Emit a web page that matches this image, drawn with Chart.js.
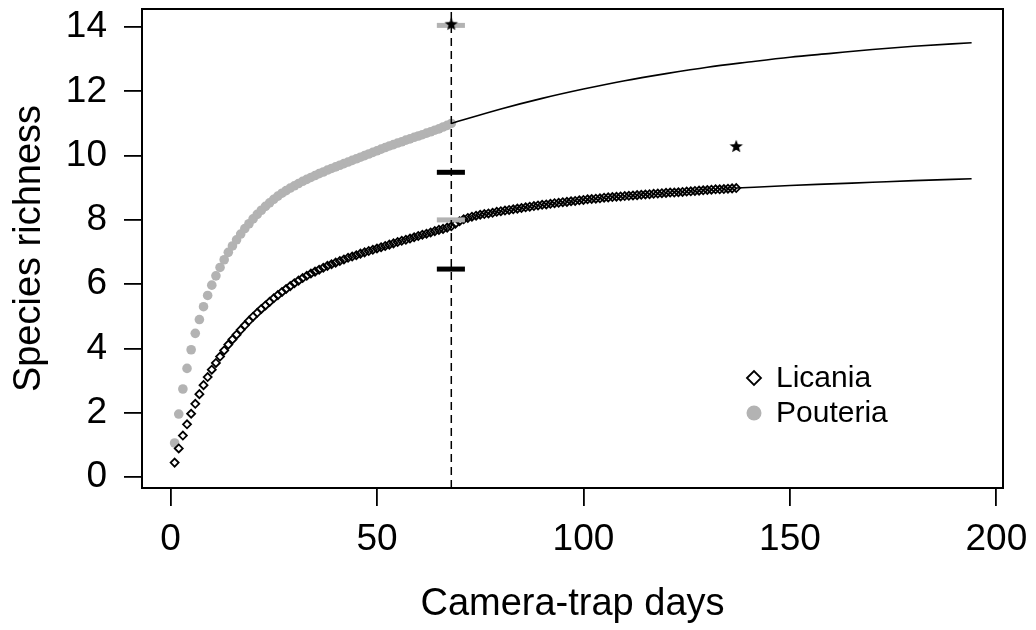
<!DOCTYPE html>
<html>
<head>
<meta charset="utf-8">
<script src="https://cdn.jsdelivr.net/npm/chart.js@4.4.1/dist/chart.umd.min.js"></script>
<style>
    html, body { margin: 0; padding: 0; background: #fff; }
    canvas { display: block; }
</style>
</head>
<body>
<canvas id="richness" width="1036" height="630"></canvas>
<script>
// observed species richness, one value per camera-trap day (day 1 first)
const licaniaRichness = [
    0.45, 0.89, 1.29, 1.64, 1.97, 2.28, 2.58, 2.86, 3.11, 3.34,
    3.55, 3.75, 3.94, 4.12, 4.28, 4.43, 4.58, 4.72, 4.86, 4.99,
    5.11, 5.23, 5.34, 5.45, 5.56, 5.66, 5.76, 5.85, 5.94, 6.03,
    6.11, 6.19, 6.26, 6.33, 6.39, 6.45, 6.51, 6.57, 6.62, 6.67,
    6.72, 6.77, 6.82, 6.86, 6.90, 6.95, 6.99, 7.03, 7.07, 7.11,
    7.15, 7.19, 7.23, 7.27, 7.31, 7.35, 7.38, 7.42, 7.46, 7.50,
    7.54, 7.57, 7.61, 7.65, 7.69, 7.72, 7.76, 7.80, 7.88, 7.96,
    8.02, 8.06, 8.10, 8.13, 8.16, 8.18, 8.20, 8.22, 8.25, 8.27,
    8.29, 8.31, 8.33, 8.35, 8.37, 8.39, 8.41, 8.43, 8.45, 8.47,
    8.48, 8.50, 8.52, 8.53, 8.55, 8.56, 8.58, 8.59, 8.61, 8.62,
    8.64, 8.65, 8.66, 8.67, 8.69, 8.70, 8.71, 8.72, 8.73, 8.74,
    8.75, 8.76, 8.77, 8.78, 8.79, 8.80, 8.81, 8.82, 8.83, 8.84,
    8.85, 8.85, 8.86, 8.87, 8.88, 8.89, 8.90, 8.91, 8.92, 8.93,
    8.94, 8.95, 8.95, 8.96, 8.97, 8.98, 8.99
];
const pouteriaRichness = [
    1.06, 1.96, 2.74, 3.38, 3.96, 4.47, 4.90, 5.30, 5.65, 5.97,
    6.26, 6.52, 6.76, 6.99, 7.19, 7.38, 7.56, 7.73, 7.88, 8.03,
    8.17, 8.30, 8.42, 8.53, 8.64, 8.74, 8.83, 8.91, 8.99, 9.06,
    9.13, 9.20, 9.26, 9.32, 9.38, 9.44, 9.49, 9.55, 9.60, 9.65,
    9.70, 9.75, 9.80, 9.85, 9.90, 9.95, 10.00, 10.05, 10.10, 10.15,
    10.20, 10.25, 10.30, 10.34, 10.39, 10.43, 10.48, 10.52, 10.57, 10.61,
    10.65, 10.70, 10.74, 10.79, 10.83, 10.89, 10.94, 11.00
];

// extrapolated curves beyond the sampled days
const pouteriaExtDays = [68, 80, 90, 100, 110, 120, 130, 140, 150, 160, 170, 180, 194];
const pouteriaExtRichness = [11.00, 11.45, 11.78, 12.07, 12.33, 12.55, 12.75, 12.91, 13.06, 13.18, 13.30, 13.40, 13.51];
const licaniaExtDays = [137, 150, 160, 170, 180, 194];
const licaniaExtRichness = [8.99, 9.07, 9.12, 9.17, 9.22, 9.28];

// estimator (stars) and interval marks at the comparison day
const compareDay = 68;
const estimatorDays = [68, 137];
const estimatorRichness = [14.1, 10.3];
const barDays = [64.5, 71.3];
const greyBarRichness = [14.05, 8.0];
const blackBarRichness = [9.48, 6.47];

const xTicks = [0, 50, 100, 150, 200];
const yTicks = [0, 2, 4, 6, 8, 10, 12, 14];
const xMin = -6.9, xMax = 201.6;
const yMin = -0.34, yMax = 14.56;

const GREY = '#b3b3b3';
const FONT = '"Liberation Sans", Arial, Helvetica, sans-serif';

// filled five-pointed star used as a point style
function starImage(r) {
    const c = document.createElement('canvas');
    c.width = c.height = Math.ceil(r * 2 + 2);
    const g = c.getContext('2d');
    const cx = c.width / 2, cy = c.height / 2 + r * 0.1;
    g.beginPath();
    for (let i = 0; i < 10; i++) {
        const a = -Math.PI / 2 + i * Math.PI / 5;
        const rr = i % 2 ? r * 0.42 : r;
        g.lineTo(cx + rr * Math.cos(a), cy + rr * Math.sin(a));
    }
    g.closePath();
    g.fillStyle = '#000';
    g.fill();
    return c;
}

const toPoints = (xs, ys) => xs.map((x, i) => ({ x, y: ys[i] }));
const bar = (y, color) => ({
    data: barDays.map(x => ({ x, y })),
    showLine: true,
    borderColor: color,
    borderWidth: 5,
    borderCapStyle: 'butt',
    pointRadius: 0
});

const datasets = [
    {
        data: toPoints(estimatorDays, estimatorRichness),
        pointStyle: starImage(7),
        pointRadius: 7
    },
    {
        data: [{ x: compareDay, y: yMin }, { x: compareDay, y: yMax }],
        showLine: true,
        borderColor: '#000',
        borderWidth: 1.5,
        borderDash: [8, 5],
        pointRadius: 0
    },
    ...greyBarRichness.map(y => bar(y, GREY)),
    ...blackBarRichness.map(y => bar(y, '#000')),
    {
        data: toPoints(pouteriaExtDays, pouteriaExtRichness),
        showLine: true,
        borderColor: '#000',
        borderWidth: 1.6,
        cubicInterpolationMode: 'monotone',
        pointRadius: 0
    },
    {
        data: toPoints(licaniaExtDays, licaniaExtRichness),
        showLine: true,
        borderColor: '#000',
        borderWidth: 1.6,
        cubicInterpolationMode: 'monotone',
        pointRadius: 0
    },
    {
        label: 'Licania',
        data: licaniaRichness.map((y, i) => ({ x: i + 1, y })),
        pointStyle: 'rectRot',
        pointRadius: 4,
        borderColor: '#000',
        borderWidth: 1.8,
        backgroundColor: 'rgba(0,0,0,0)'
    },
    {
        label: 'Pouteria',
        data: pouteriaRichness.map((y, i) => ({ x: i + 1, y })),
        pointStyle: 'circle',
        pointRadius: 4.8,
        borderWidth: 0,
        backgroundColor: GREY
    }
];

// plot frame plus the legend in the lower right of the panel
const frameAndLegend = {
    id: 'frameAndLegend',
    afterDatasetsDraw(chart) {
        const { ctx, chartArea } = chart;
        ctx.save();
        ctx.strokeStyle = '#000';
        ctx.lineWidth = 2;
        ctx.strokeRect(chartArea.left, chartArea.top, chartArea.width, chartArea.height);

        const mx = chartArea.left + 612;
        const tx = chartArea.left + 634;
        const rows = [chartArea.top + 369, chartArea.top + 404];
        ctx.font = '30px ' + FONT;
        ctx.textBaseline = 'middle';
        ctx.fillStyle = '#000';

        // Licania: open diamond
        ctx.beginPath();
        ctx.moveTo(mx - 7, rows[0]);
        ctx.lineTo(mx, rows[0] - 7);
        ctx.lineTo(mx + 7, rows[0]);
        ctx.lineTo(mx, rows[0] + 7);
        ctx.closePath();
        ctx.lineWidth = 1.8;
        ctx.stroke();
        ctx.fillText(datasets[datasets.length - 2].label, tx, rows[0] + 1);

        // Pouteria: grey dot
        ctx.beginPath();
        ctx.arc(mx, rows[1], 7.5, 0, Math.PI * 2);
        ctx.fillStyle = GREY;
        ctx.fill();
        ctx.fillStyle = '#000';
        ctx.fillText(datasets[datasets.length - 1].label, tx, rows[1] + 1);
        ctx.restore();
    }
};

const axisGrid = { drawOnChartArea: false, color: '#000', lineWidth: 1.8, tickLength: 18 };

new Chart(document.getElementById('richness'), {
    type: 'scatter',
    data: { datasets },
    options: {
        responsive: false,
        animation: false,
        events: [],
        layout: { padding: { top: 9, right: 33, left: 0, bottom: 0 } },
        scales: {
            x: {
                type: 'linear',
                min: xMin,
                max: xMax,
                afterBuildTicks: s => { s.ticks = xTicks.map(v => ({ value: v })); },
                afterFit: s => { s.height = 142; s.paddingLeft = 0; s.paddingRight = 0; },
                grid: axisGrid,
                border: { display: false },
                ticks: { color: '#000', font: { family: FONT, size: 37 }, padding: 12, maxRotation: 0, autoSkip: false },
                title: { display: true, text: 'Camera-trap days', color: '#000', font: { family: FONT, size: 38 }, padding: { bottom: 3 } }
            },
            y: {
                type: 'linear',
                min: yMin,
                max: yMax,
                afterBuildTicks: s => { s.ticks = yTicks.map(v => ({ value: v })); },
                afterFit: s => { s.width = 142; s.paddingTop = 0; s.paddingBottom = 0; },
                grid: axisGrid,
                border: { display: false },
                ticks: { color: '#000', font: { family: FONT, size: 37 }, padding: 17, autoSkip: false },
                title: { display: true, text: 'Species richness', color: '#000', font: { family: FONT, size: 38 }, padding: { top: 7 } }
            }
        },
        plugins: {
            legend: { display: false },
            tooltip: { enabled: false }
        }
    },
    plugins: [frameAndLegend]
});
</script>
</body>
</html>
